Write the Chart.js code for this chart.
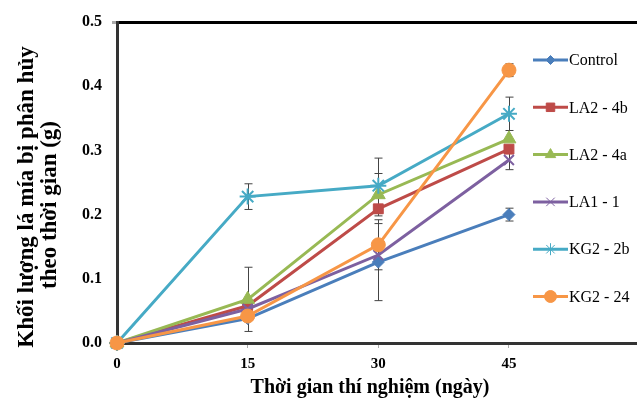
<!DOCTYPE html>
<html>
<head>
<meta charset="utf-8">
<script src="https://cdn.jsdelivr.net/npm/chart.js@4/dist/chart.umd.min.js"></script>
<style>
  html, body { margin: 0; padding: 0; background: #fff; overflow: hidden; }
  #wrap { width: 637px; height: 399px; }
</style>
</head>
<body>
<div id="wrap"><canvas id="chart" width="637" height="399"></canvas></div>
<script>
// days of the experiment
const days = [0, 15, 30, 45];

const seriesNames = ['Control', 'LA2 - 4b', 'LA2 - 4a', 'LA1 - 1', 'KG2 - 2b', 'KG2 - 24'];

const control = [0, 0.038, 0.126, 0.200];
const la2_4b  = [0, 0.058, 0.209, 0.302];
const la2_4a  = [0, 0.068, 0.231, 0.318];
const la1_1   = [0, 0.053, 0.137, 0.285];
const kg2_2b  = [0, 0.228, 0.245, 0.357];
const kg2_24  = [0, 0.042, 0.153, 0.425];

// error bar half-widths (0 = none visible)
const errControl = [0, 0, 0.060, 0.010];
const errLa2_4b  = [0, 0, 0, 0];
const errLa2_4a  = [0, 0.050, 0.033, 0];
const errLa1_1   = [0, 0, 0, 0.015];
const errKg2_2b  = [0, 0.020, 0.043, 0.026];
const errKg2_24  = [0, 0, 0.039, 0.010];

const yTicks = [0, 0.1, 0.2, 0.3, 0.4, 0.5];

const xTitle = 'Thời gian thí nghiệm (ngày)';
const yTitle = ['Khối lượng lá mía bị phân hủy', 'theo thời gian (g)'];

const colors = ['#4A7EBB', '#BE4B48', '#98B954', '#7D60A0', '#46AAC5', '#F79646'];
const pointStyles = ['rectRot', 'rect', 'triangle', 'crossRot', 'star', 'circle'];
const pointSizes = [6, 7, 8, 7, 8, 7];
const allValues = [control, la2_4b, la2_4a, la1_1, kg2_2b, kg2_24];
const allErrors = [errControl, errLa2_4b, errLa2_4a, errLa1_1, errKg2_2b, errKg2_24];

const serif = '"Liberation Serif", "Times New Roman", serif';

const datasets = seriesNames.map((name, i) => ({
  label: name,
  data: days.map((d, j) => ({ x: d, y: allValues[i][j] })),
  errors: allErrors[i],
  borderColor: colors[i],
  backgroundColor: colors[i],
  pointBorderColor: colors[i],
  pointBackgroundColor: colors[i],
  borderWidth: 3,
  pointStyle: pointStyles[i],
  pointRadius: pointSizes[i],
  pointBorderWidth: (pointStyles[i] === 'crossRot' || pointStyles[i] === 'star') ? 2 : 1,
  tension: 0,
  clip: false,
  order: seriesNames.length - i
}));

// error bars, drawn under the lines
const errorBars = {
  id: 'errorBars',
  beforeDatasetsDraw(chart) {
    const ctx = chart.ctx;
    const x = chart.scales.x, y = chart.scales.y;
    ctx.save();
    ctx.strokeStyle = '#444';
    ctx.lineWidth = 1;
    chart.data.datasets.forEach(ds => {
      ds.data.forEach((p, j) => {
        const e = ds.errors[j];
        if (!e) return;
        const px = Math.round(x.getPixelForValue(p.x)) + 0.5;
        const top = y.getPixelForValue(p.y + e);
        const bot = y.getPixelForValue(p.y - e);
        ctx.beginPath();
        ctx.moveTo(px, top); ctx.lineTo(px, bot);
        ctx.moveTo(px - 4, top); ctx.lineTo(px + 4, top);
        ctx.moveTo(px - 4, bot); ctx.lineTo(px + 4, bot);
        ctx.stroke();
      });
    });
    ctx.restore();
  }
};

// legend sits inside the plot, on the right; axis titles placed by hand
const insideLegend = {
  id: 'insideLegend',
  afterDraw(chart) {
    const ctx = chart.ctx;
    ctx.save();
    chart.data.datasets.forEach((ds, i) => {
      const cy = 60 + i * 47.3;
      ctx.strokeStyle = ds.borderColor;
      ctx.lineWidth = 3;
      ctx.beginPath();
      ctx.moveTo(533, cy); ctx.lineTo(568, cy);
      ctx.stroke();
      ctx.fillStyle = ds.borderColor;
      ctx.strokeStyle = ds.borderColor;
      ctx.lineWidth = 1;
      Chart.helpers.drawPoint(ctx, {
        pointStyle: ds.pointStyle,
        radius: ds.pointStyle === 'rectRot' ? 4.5 : 6,
        borderWidth: 1,
        rotation: 0
      }, 550.5, cy);
      ctx.fillStyle = '#000';
      ctx.font = '16px ' + serif;
      ctx.textBaseline = 'middle';
      ctx.textAlign = 'left';
      ctx.fillText(ds.label, 569, cy + 1);
    });

    ctx.fillStyle = '#000';
    ctx.textAlign = 'center';
    ctx.textBaseline = 'middle';
    ctx.font = 'bold 20px ' + serif;
    ctx.fillText(xTitle, 370, 388);

    ctx.font = 'bold 23px ' + serif;
    ctx.translate(27, 197);
    ctx.rotate(-Math.PI / 2);
    ctx.fillText(yTitle[0], 0, 0);
    ctx.fillText(yTitle[1], -8, 23);
    ctx.restore();
  }
};

new Chart(document.getElementById('chart'), {
  type: 'line',
  data: { datasets },
  plugins: [errorBars, insideLegend],
  options: {
    responsive: false,
    animation: false,
    layout: { autoPadding: false, padding: { top: 22, right: 0, left: 0, bottom: 0 } },
    plugins: {
      legend: { display: false },
      tooltip: { enabled: false },
      title: { display: false }
    },
    scales: {
      x: {
        type: 'linear',
        min: 0,
        max: 59.7,
        afterBuildTicks(scale) {
          scale.ticks = days.map(v => ({ value: v }));
        },
        afterFit(scale) {
          scale.height = 56;
          scale.paddingLeft = 0;
          scale.paddingRight = 0;
        },
        border: { color: '#333', width: 3 },
        grid: { drawOnChartArea: false, tickLength: 5, tickColor: '#aaa' },
        ticks: {
          color: '#000',
          padding: 7,
          maxRotation: 0,
          font: { family: serif, size: 15, weight: 'bold' }
        },
        title: { display: false }
      },
      y: {
        min: 0,
        max: 0.5,
        afterBuildTicks(scale) {
          scale.ticks = yTicks.map(v => ({ value: v }));
        },
        afterFit(scale) { scale.width = 117; },
        border: { color: '#333', width: 3 },
        grid: {
          color: c => (c.tick && c.tick.value === 0.5) ? '#000' : 'rgba(0,0,0,0)',
          lineWidth: c => (c.tick && c.tick.value === 0.5) ? 3 : 0,
          tickColor: '#aaa',
          tickLength: 5
        },
        ticks: {
          color: '#000',
          padding: 10,
          callback: v => v.toFixed(1),
          font: { family: serif, size: 16, weight: 'bold' }
        },
        title: { display: false }
      }
    }
  }
});
</script>
</body>
</html>
